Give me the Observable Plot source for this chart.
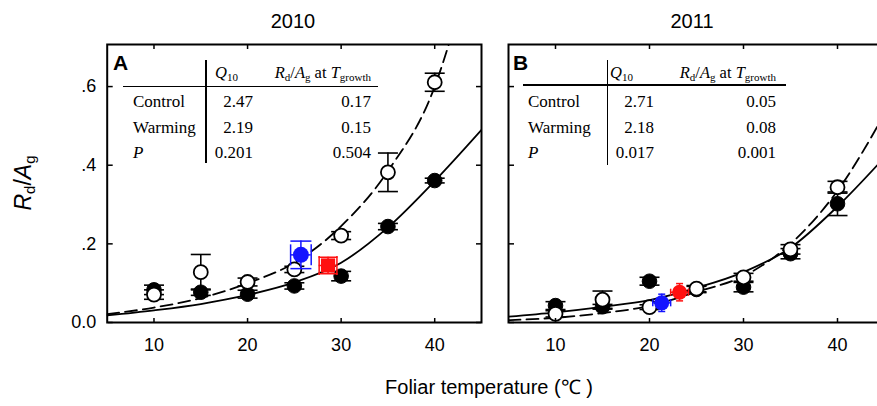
<!DOCTYPE html>
<html>
<head>
<meta charset="utf-8">
<script src="https://cdn.jsdelivr.net/npm/d3@7"></script>
<script src="https://cdn.jsdelivr.net/npm/@observablehq/plot@0.6"></script>
<style>
  html, body { margin: 0; padding: 0; background: #fff; }
  #fig { position: relative; width: 877px; height: 406px; overflow: hidden;
         font-family: "Liberation Sans", Arial, sans-serif; color: #000; }
  .panel { position: absolute; top: 0; }
  .panel svg { max-width: none !important; display: block; }
  .title { position: absolute; top: 10px; font-size: 20px; transform: translateX(-50%); white-space: nowrap; }
  .letter { position: absolute; font-family: "Liberation Sans", Arial, sans-serif; font-weight: bold; font-size: 21px; line-height: 1; }
  .ylab { position: absolute; left: 24px; top: 183px; transform: translate(-50%, -50%) rotate(-90deg);
          font-family: "Liberation Sans", Arial, sans-serif; font-size: 23px; white-space: nowrap; }
  .ylab sub { font-size: 15px; vertical-align: -4px; }
  .xlab { position: absolute; left: 489px; top: 373px; transform: translateX(-50%); font-size: 20px; white-space: nowrap; }
  .tbl { position: absolute; font-family: "Liberation Serif", "Times New Roman", serif; font-size: 17px; line-height: 1; }
  .tbl .cell { position: absolute; white-space: nowrap; transform: translateY(-50%); }
  .tbl .right { transform: translate(-100%, -50%); }
  .tbl .hd { font-size: 16.5px; }
  .tbl sub { font-size: 11px; vertical-align: -3px; }
  .tbl .rule { position: absolute; background: #000; }
</style>
</head>
<body>
<div id="fig"></div>
<script>
// ---------- data ----------
const years = ["2010", "2011"];
const panelLetters = ["A", "B"];
const temps = [10, 15, 20, 25, 30, 35, 40];

// open circles (follow dashed fit)
const open2010     = [0.071, 0.128, 0.103, 0.135, 0.221, 0.382, 0.611];
const openErr2010  = [0.012, 0.045, 0.010, 0.008, 0.010, 0.049, 0.023];
// filled circles (follow solid fit)
const filled2010    = [0.083, 0.077, 0.072, 0.093, 0.118, 0.244, 0.361];
const filledErr2010 = [0.012, 0.008, 0.010, 0.008, 0.012, 0.008, 0.006];

const open2011     = [0.022, 0.058, 0.039, 0.086, 0.115, 0.186, 0.344];
const openErr2011  = [0.008, 0.022, 0.006, 0.008, 0.010, 0.012, 0.015];
const filled2011    = [0.043, 0.040, 0.105, 0.084, 0.090, 0.175, 0.302];
const filledErr2011 = [0.010, 0.006, 0.010, 0.008, 0.012, 0.013, 0.030];

// values at growth temperature (blue, red)
const growthT2010    = [25.7, 28.6];
const growthV2010    = [0.172, 0.145];
const growthTErr2010 = [1.1, 0.95];
const growthVErr2010 = [0.035, 0.021];
const growthT2011    = [21.3, 23.2];
const growthV2011    = [0.050, 0.077];
const growthTErr2011 = [0.95, 0.95];
const growthVErr2011 = [0.022, 0.022];

// fitted curves
const fitT = [5, 10, 15, 20, 25, 30, 35, 40, 45];
const solid2010  = [0.018, 0.031, 0.047, 0.070, 0.102, 0.152, 0.242, 0.360, 0.490];
const dashedT2010 = [5, 10, 15, 20, 25, 30, 35, 40, 42];
const dashed2010 = [0.021, 0.038, 0.062, 0.100, 0.152, 0.245, 0.385, 0.600, 0.745];
const solid2011  = [0.015, 0.026, 0.040, 0.057, 0.088, 0.128, 0.190, 0.295, 0.420];
const dashed2011 = [0.006, 0.012, 0.024, 0.042, 0.078, 0.118, 0.200, 0.335, 0.530];

// axis ticks
const xTicks = [10, 20, 30, 40];
const yTicks = [0, 0.2, 0.4, 0.6];
const yTickLabels = ["0.0", ".2", ".4", ".6"];

// inset tables
const tableRows = ["Control", "Warming", "P"];
const q10_2010 = ["2.47", "2.19", "0.201"];
const ratio_2010 = ["0.17", "0.15", "0.504"];
const q10_2011 = ["2.71", "2.18", "0.017"];
const ratio_2011 = ["0.05", "0.08", "0.001"];

// ---------- helpers ----------
const zip = (xs, ys, es) => xs.map((t, i) => ({t, v: ys[i], e: es ? es[i] : 0})).filter(d => d.v != null);
const capH = {draw(ctx, size) { const w = Math.sqrt(size / Math.PI); ctx.moveTo(-w, 0); ctx.lineTo(w, 0); }};
const capV = {draw(ctx, size) { const w = Math.sqrt(size / Math.PI); ctx.moveTo(0, -w); ctx.lineTo(0, w); }};
const none = () => "";

function errMarks(data, color, capR) {
  return [
    Plot.ruleX(data, {x: "t", y1: d => d.v - d.e, y2: d => d.v + d.e, stroke: color, strokeWidth: 1.6}),
    Plot.dot(data, {x: "t", y: d => d.v - d.e, symbol: capH, r: capR, stroke: color, fill: "none", strokeWidth: 1.6}),
    Plot.dot(data, {x: "t", y: d => d.v + d.e, symbol: capH, r: capR, stroke: color, fill: "none", strokeWidth: 1.6})
  ];
}

function makePanel(cfg) {
  const open = zip(temps, cfg.open, cfg.openErr);
  const filled = zip(temps, cfg.filled, cfg.filledErr);
  const solid = zip(fitT, cfg.solid);
  const dashed = zip(cfg.dashedT, cfg.dashed);
  const growth = cfg.growthT.map((t, i) => ({t, v: cfg.growthV[i], te: cfg.growthTErr[i], e: cfg.growthVErr[i], c: ["#1414ff", "#ff1010"][i], cap: cfg.growthCap[i]}));
  const yfmt = d => yTickLabels[yTicks.indexOf(d)];
  const tk = {label: null, strokeWidth: 1.5, tickSize: 5, tickFormat: none};
  const capDot = (xf, yf, sym) => growth.map(g => Plot.dot([g], {x: xf, y: yf, symbol: sym, r: g.cap, stroke: g.c, fill: "none", strokeWidth: 1.5}));
  return Plot.plot({
    width: cfg.width, height: 406,
    marginLeft: cfg.marginLeft, marginRight: cfg.marginRight, marginTop: 44, marginBottom: 84,
    x: {domain: [5, 45]},
    y: {domain: [0, 0.707]},
    style: {fontFamily: '"Liberation Sans", Arial, sans-serif', fontSize: "18px", color: "#000", background: "transparent", overflow: "visible"},
    marks: [
      Plot.line(solid, {x: "t", y: "v", curve: "monotone-x", stroke: "#000", strokeWidth: 1.8, clip: true}),
      Plot.line(dashed, {x: "t", y: "v", curve: "monotone-x", stroke: "#000", strokeWidth: 1.8, strokeDasharray: "12,6", clip: true}),
      ...errMarks(filled, "#000", 10),
      Plot.dot(filled, {x: "t", y: "v", r: 7.3, fill: "#000", stroke: "#000", strokeWidth: 1}),
      ...errMarks(open, "#000", 10),
      Plot.dot(open, {x: "t", y: "v", r: 7, fill: "#fff", stroke: "#000", strokeWidth: 1.8}),
      // growth-temperature points
      Plot.ruleX(growth, {x: "t", y1: d => d.v - d.e, y2: d => d.v + d.e, stroke: "c", strokeWidth: 1.5}),
      Plot.ruleY(growth, {y: "v", x1: d => d.t - d.te, x2: d => d.t + d.te, stroke: "c", strokeWidth: 1.5}),
      ...capDot("t", d => d.v - d.e, capH),
      ...capDot("t", d => d.v + d.e, capH),
      ...capDot(d => d.t - d.te, "v", capV),
      ...capDot(d => d.t + d.te, "v", capV),
      Plot.dot(growth, {x: "t", y: "v", r: cfg.growthR, symbol: (d, i) => cfg.growthSymbols[i], fill: "c", stroke: "none"}),
      Plot.frame({stroke: "#000", strokeWidth: 2}),
      // inward ticks on all four sides
      Plot.axisX({...tk, ticks: xTicks, anchor: "top", frameAnchor: "bottom"}),
      Plot.axisX({...tk, ticks: xTicks, anchor: "bottom", frameAnchor: "top"}),
      Plot.axisY({...tk, ticks: yTicks, anchor: "right", frameAnchor: "left"}),
      Plot.axisY({...tk, ticks: yTicks, anchor: "left", frameAnchor: "right"}),
      // tick labels
      Plot.axisX({ticks: xTicks, tickSize: 0, tickPadding: 16, label: null}),
      ...(cfg.yLabels ? [Plot.axisY({ticks: yTicks, tickSize: 0, tickPadding: 11, tickFormat: yfmt, label: null})] : [])
    ]
  });
}

function makeTable(fig, t) {
  const div = document.createElement("div");
  div.className = "tbl";
  div.style.left = "0px"; div.style.top = "0px";
  const add = (html, x, y, cls) => {
    const s = document.createElement("div");
    s.className = "cell " + (cls || "");
    s.style.left = x + "px"; s.style.top = y + "px";
    s.innerHTML = html;
    div.appendChild(s);
  };
  const rule = (x, y, w, h) => {
    const r = document.createElement("div");
    r.className = "rule";
    r.style.left = x + "px"; r.style.top = y + "px"; r.style.width = w + "px"; r.style.height = h + "px";
    div.appendChild(r);
  };
  rule(t.vline, 60, 1.6, t.vlineH);
  rule(t.hx1, t.hy, t.hx2 - t.hx1, 1.6);
  add("<i>Q</i><sub>10</sub>", t.c1left, 74, "hd");
  add("<i>R</i><sub>d</sub>/<i>A</i><sub>g</sub> at <i>T</i><sub>growth</sub>", t.c2right, 74, "hd right");
  const rowsY = [101, 127, 152];
  tableRows.forEach((r, i) => {
    add(r === "P" ? "<i>P</i>" : r, t.labLeft, rowsY[i]);
    add(t.q10[i], t.c1right, rowsY[i], "right");
    add(t.ratio[i], t.c2right, rowsY[i], "right");
  });
  fig.appendChild(div);
}

const fig = document.getElementById("fig");

const panels = [
  {left: 0, width: 490, marginLeft: 106.7, marginRight: 9, yLabels: true,
   open: open2010, openErr: openErr2010, filled: filled2010, filledErr: filledErr2010,
   solid: solid2010, dashedT: dashedT2010, dashed: dashed2010,
   growthT: growthT2010, growthV: growthV2010, growthTErr: growthTErr2010, growthVErr: growthVErr2010,
   growthSymbols: ["circle", "square"], growthR: 8, growthCap: [10.5, 9.5]},
  {left: 490, width: 404, marginLeft: 18, marginRight: 10, yLabels: false,
   open: open2011, openErr: openErr2011, filled: filled2011, filledErr: filledErr2011,
   solid: solid2011, dashedT: fitT, dashed: dashed2011,
   growthT: growthT2011, growthV: growthV2011, growthTErr: growthTErr2011, growthVErr: growthVErr2011,
   growthSymbols: ["circle", "circle"], growthR: 7.5, growthCap: [3.5, 3.5]}
];

panels.forEach(p => {
  const chart = makePanel(p);
  chart.style.maxWidth = "none";
  const wrap = document.createElement("div");
  wrap.className = "panel";
  wrap.style.left = p.left + "px";
  wrap.style.width = p.width + "px";
  wrap.appendChild(chart);
  fig.appendChild(wrap);
});

// titles
[[years[0], 293], [years[1], 692]].forEach(([t, x]) => {
  const d = document.createElement("div");
  d.className = "title"; d.style.left = x + "px"; d.textContent = t;
  fig.appendChild(d);
});
// panel letters
[[panelLetters[0], 113, 52], [panelLetters[1], 513, 52]].forEach(([t, x, y]) => {
  const d = document.createElement("div");
  d.className = "letter"; d.style.left = x + "px"; d.style.top = y + "px"; d.textContent = t;
  fig.appendChild(d);
});

makeTable(fig, {vline: 205, vlineH: 103, hx1: 123, hx2: 378, hy: 85.5, c1left: 215, c1right: 253, c2right: 371, labLeft: 133, q10: q10_2010, ratio: ratio_2010});
makeTable(fig, {vline: 606.5, vlineH: 105, hx1: 523, hx2: 786, hy: 84, c1left: 610, c1right: 654, c2right: 776, labLeft: 528, q10: q10_2011, ratio: ratio_2011});

// axis titles
const yl = document.createElement("div");
yl.className = "ylab";
yl.innerHTML = "<i>R</i><sub>d</sub>/<i>A</i><sub>g</sub>";
fig.appendChild(yl);
const xl = document.createElement("div");
xl.className = "xlab";
xl.textContent = "Foliar temperature (℃ )";
fig.appendChild(xl);
</script>
</body>
</html>
